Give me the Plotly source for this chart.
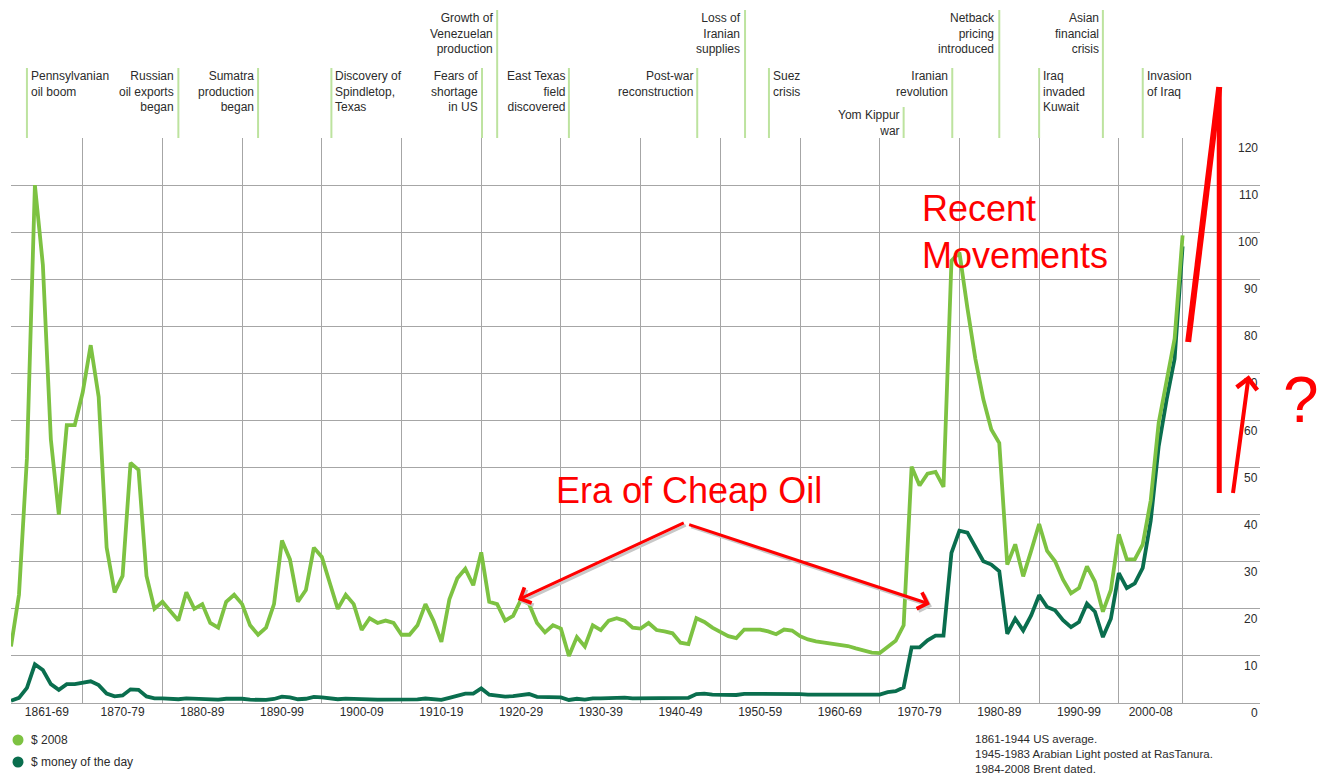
import plotly.graph_objects as go

# ---------------- data ----------------
years = list(range(1861, 2009))

price_2008 = [
    12, 23, 52, 110, 93, 56, 40, 59, 59,                  # 1861-69
    66, 76, 65, 33, 23.5, 27, 51, 49.5, 27, 20,           # 1870-79
    21.5, 19.5, 17.5, 23.5, 20, 21, 17, 16, 21.5, 23,     # 1880-89
    21, 16.5, 14.5, 16, 21, 34.5, 30.5, 21.5, 24, 33,     # 1890-99
    31, 25.5, 20, 23, 21, 15.5, 18, 17, 17.5, 17,         # 1900-09
    14.5, 14.5, 16.5, 21, 17.5, 13, 22, 26.5, 28.5, 25,   # 1910-19
    32, 21.5, 21, 17.5, 18.5, 22, 21, 17, 15, 16.5,       # 1920-29
    15.8, 10, 14, 12, 16.5, 15.5, 17.5, 18, 17.5, 16,     # 1930-39
    15.8, 17, 15.5, 15.2, 14.8, 12.8, 12.5, 18, 17.2, 16, # 1940-49
    15, 14.2, 13.8, 15.6, 15.6, 15.6, 15.2, 14.6, 15.6, 15.4,  # 1950-59
    14.2, 13.5, 13.1, 12.9, 12.7, 12.5, 12.1, 11.6, 11.1, 10.7, # 1960-69
    10.6, 12, 13.2, 16.5, 50.2, 46.2, 48.7, 49.1, 45.9, 93.9,  # 1970-79
    95.7, 83.9, 73.1, 64.5, 58.1, 55.2, 29.4, 33.7, 26.9, 32.3, # 1980-89
    38, 32.3, 30.1, 26.2, 23.3, 24.4, 29, 25.8, 19.4, 24,      # 1990-99
    35.8, 30.5, 30.5, 33.7, 43, 59.5, 68.8, 77.4, 99.3,        # 2000-08
]

price_money_of_day = [
    0.5, 1.1, 3.2, 8.2, 7, 4, 2.8, 4, 4,                   # 1861-69
    4.2, 4.6, 3.8, 2, 1.4, 1.6, 2.9, 2.8, 1.4, 1,          # 1870-79
    1, 0.9, 0.8, 1, 0.9, 0.9, 0.75, 0.7, 0.9, 0.95,        # 1880-89
    0.9, 0.7, 0.6, 0.65, 0.85, 1.35, 1.2, 0.8, 0.9, 1.3,   # 1890-99
    1.2, 1, 0.8, 0.95, 0.85, 0.65, 0.75, 0.72, 0.72, 0.7,  # 1900-09
    0.6, 0.6, 0.75, 0.95, 0.8, 0.65, 1.1, 1.55, 2, 2,      # 1910-19
    3.1, 1.75, 1.6, 1.35, 1.45, 1.7, 1.9, 1.3, 1.2, 1.3,   # 1920-29
    1.2, 0.65, 0.9, 0.7, 1, 1, 1.1, 1.2, 1.15, 1,          # 1930-39
    1, 1.15, 1.2, 1.2, 1.2, 1.05, 1.1, 1.9, 2, 1.8,        # 1940-49
    1.7, 1.7, 1.7, 1.95, 1.95, 1.95, 1.95, 1.9, 2.1, 2.1,  # 1950-59
    1.9, 1.8, 1.8, 1.8, 1.8, 1.8, 1.8, 1.8, 1.8, 1.8,      # 1960-69
    1.8, 2.3, 2.5, 3.3, 11.8, 11.8, 13.3, 14.3, 14.3, 31.9,   # 1970-79
    36.6, 36.2, 33.3, 30.1, 29.4, 28, 14.7, 17.9, 15.4, 18.6, # 1980-89
    22.9, 20.4, 19.7, 17.6, 16.1, 17.2, 21.1, 19.4, 14, 17.9, # 1990-99
    27.6, 24.4, 25.4, 28.7, 38.7, 54.5, 64.5, 73.1, 97,       # 2000-08
]

decade_bounds = [1861, 1870, 1880, 1890, 1900, 1910, 1920, 1930, 1940,
                 1950, 1960, 1970, 1980, 1990, 2000, 2008]
decade_labels = ["1861-69", "1870-79", "1880-89", "1890-99", "1900-09",
                 "1910-19", "1920-29", "1930-39", "1940-49", "1950-59",
                 "1960-69", "1970-79", "1980-89", "1990-99", "2000-08"]
y_ticks = [0, 10, 20, 30, 40, 50, 60, 70, 80, 90, 100, 110, 120]

event_years = [1863, 1882, 1892, 1901.2, 1920.1, 1922, 1931, 1947.1,
               1953.1, 1956.1, 1973, 1979.1, 1985, 1990, 1998, 2003]
event_labels = [
    "Pennsylvanian<br>oil boom",
    "Russian<br>oil exports<br>began",
    "Sumatra<br>production<br>began",
    "Discovery of<br>Spindletop,<br>Texas",
    "Fears of<br>shortage<br>in US",
    "Growth of<br>Venezuelan<br>production",
    "East Texas<br>field<br>discovered",
    "Post-war<br>reconstruction",
    "Loss of<br>Iranian<br>supplies",
    "Suez<br>crisis",
    "Yom Kippur<br>war",
    "Iranian<br>revolution",
    "Netback<br>pricing<br>introduced",
    "Iraq<br>invaded<br>Kuwait",
    "Asian<br>financial<br>crisis",
    "Invasion<br>of Iraq",
]
# which side of its line the label sits on, and which row it is in
event_side = ["r", "l", "l", "r", "l", "l", "l", "l", "l", "r", "l", "l", "l", "r", "l", "r"]
event_row = [2, 2, 2, 2, 2, 1, 2, 2, 1, 2, 3, 2, 1, 2, 1, 2]

legend_names = ["$ 2008", "$ money of the day"]
footnote = ("1861-1944 US average.<br>"
            "1945-1983 Arabian Light posted at RasTanura.<br>"
            "1984-2008 Brent dated.")

# ---------------- styling / layout ----------------
W, H = 1318, 775
ML, MR, MT, MB = 11, 58, 138, 72
PW, PH = W - ML - MR, H - MT - MB

LIGHT = "#7dc242"
DARK = "#0a6e4e"
EVENT_LINE = "#bde39f"
GRID = "#a6a6a6"
TXT = "#2b2b2b"
RED = "#ff0000"
FONT = "Liberation Sans, Arial, sans-serif"
RED_FONT = "Liberation Sans, Arial, sans-serif"

row_top_px = {1: 10, 2: 68, 3: 107}


def py(p):
    """pixel row -> paper y"""
    return (H - MB - p) / PH


def px(p):
    """pixel column -> paper x"""
    return (p - ML) / PW


fig = go.Figure()
fig.add_trace(go.Scatter(x=years, y=price_money_of_day, mode="lines",
                         line=dict(color=DARK, width=3.8), name=legend_names[1],
                         showlegend=False, hoverinfo="x+y"))
fig.add_trace(go.Scatter(x=years, y=price_2008, mode="lines",
                         line=dict(color=LIGHT, width=3.8), name=legend_names[0],
                         showlegend=False, hoverinfo="x+y"))

shapes = []
annotations = []

# event lines and labels
for yr, lab, side, row in zip(event_years, event_labels, event_side, event_row):
    top = row_top_px[row]
    shapes.append(dict(type="line", xref="x", yref="paper", x0=yr, x1=yr,
                       y0=1, y1=py(top), line=dict(color=EVENT_LINE, width=2),
                       layer="above"))
    left = side == "l"
    annotations.append(dict(
        x=yr, xref="x", y=py(top - 1), yref="paper",
        xanchor="right" if left else "left", yanchor="top",
        xshift=-2 if left else 2, align="right" if left else "left",
        text=lab, showarrow=False, font=dict(family=FONT, size=12, color=TXT)))

# y tick labels (under each gridline, at right edge)
for v in y_ticks:
    annotations.append(dict(x=1, xref="paper", y=v, yref="y", xanchor="right",
                            yanchor="middle", yshift=-10, text=str(v), showarrow=False,
                            font=dict(family=FONT, size=12, color=TXT)))

# legend
for i, (name, col) in enumerate(zip(legend_names, [LIGHT, DARK])):
    cy = 740 + 22 * i
    shapes.append(dict(type="circle", xref="paper", yref="paper",
                       xsizemode="pixel", ysizemode="pixel",
                       xanchor=px(18), yanchor=py(cy), x0=-5.5, x1=5.5, y0=-5.5, y1=5.5,
                       fillcolor=col, line=dict(width=0)))
    annotations.append(dict(x=px(29), xref="paper", y=py(cy), yref="paper",
                            xanchor="left", yanchor="middle", text=name, showarrow=False,
                            font=dict(family=FONT, size=12, color=TXT)))

# footnote
annotations.append(dict(x=px(973), xref="paper", y=py(731), yref="paper",
                        xanchor="left", yanchor="top", align="left", text=footnote,
                        showarrow=False, font=dict(family=FONT, size=11.5, color=TXT)))

# ---------------- red hand-drawn overlay ----------------
annotations.append(dict(x=1975.0, xref="x", y=109.8, yref="y", xanchor="left",
                        yanchor="top", align="left", text="Recent<br>Movements",
                        showarrow=False, font=dict(family=RED_FONT, size=36, color=RED)))
annotations.append(dict(x=1946.1, xref="x", y=45.2, yref="y", xanchor="center",
                        yanchor="middle", text="Era of Cheap Oil",
                        showarrow=False, font=dict(family=RED_FONT, size=36, color=RED)))
# arrows (gray shadow first)
for (hx, hy, tx, ty) in [(1924.6, 21.9, 1945.6, 38.4), (1976.3, 21.0, 1945.9, 38.0)]:
    annotations.append(dict(x=hx + 0.25, y=hy - 0.5, ax=tx + 0.25, ay=ty - 0.5,
                            xref="x", yref="y", axref="x", ayref="y", text="",
                            showarrow=True, arrowhead=4, arrowsize=1.1, arrowwidth=3,
                            arrowcolor="#c8c8c8"))
    annotations.append(dict(x=hx, y=hy, ax=tx, ay=ty,
                            xref="x", yref="y", axref="x", ayref="y", text="",
                            showarrow=True, arrowhead=4, arrowsize=1.1, arrowwidth=3,
                            arrowcolor=RED))
# right side scribble
shapes.append(dict(type="line", xref="x", yref="paper", x0=2008.7, x1=2012.6,
                   y0=py(342), y1=py(87), line=dict(color=RED, width=6), layer="above"))
shapes.append(dict(type="line", xref="x", yref="paper", x0=2012.6, x1=2012.6,
                   y0=py(87), y1=py(493), line=dict(color=RED, width=5), layer="above"))
annotations.append(dict(x=2016.3, y=69.6, ax=2014.3, ay=44.3,
                        xref="x", yref="y", axref="x", ayref="y", text="",
                        showarrow=True, arrowhead=4, arrowsize=1, arrowwidth=4,
                        arrowcolor=RED))
annotations.append(dict(x=px(1301), xref="paper", y=py(400), yref="paper",
                        xanchor="center", yanchor="middle", text="?", showarrow=False,
                        font=dict(family=RED_FONT, size=64, color=RED)))

tick_pos = [(a + b) / 2 for a, b in zip(decade_bounds[:-1], decade_bounds[1:])]

fig.update_layout(
    width=W, height=H,
    margin=dict(l=ML, r=MR, t=MT, b=MB, pad=0),
    paper_bgcolor="white", plot_bgcolor="white",
    font=dict(family=FONT, size=12, color=TXT),
    showlegend=False,
    xaxis=dict(range=[1861, 1861 + PW / 7.97], showgrid=False, zeroline=False,
               showline=False, tickmode="array", tickvals=tick_pos,
               ticktext=decade_labels, ticks="", tickfont=dict(family=FONT, size=12, color=TXT),
               minor=dict(tickmode="array", tickvals=decade_bounds[1:], showgrid=True,
                          gridcolor=GRID, gridwidth=1, ticks=""),
               fixedrange=True),
    yaxis=dict(range=[0, 120], showgrid=True, gridcolor=GRID, gridwidth=1,
               tickmode="array", tickvals=y_ticks, showticklabels=False,
               zeroline=True, zerolinecolor=GRID, zerolinewidth=1, showline=False,
               fixedrange=True),
    shapes=shapes,
    annotations=annotations,
)

fig.write_html("out.html", config={"displayModeBar": False},
               post_script="document.body.style.margin='0px';"
                           "document.body.style.overflow='hidden';")
